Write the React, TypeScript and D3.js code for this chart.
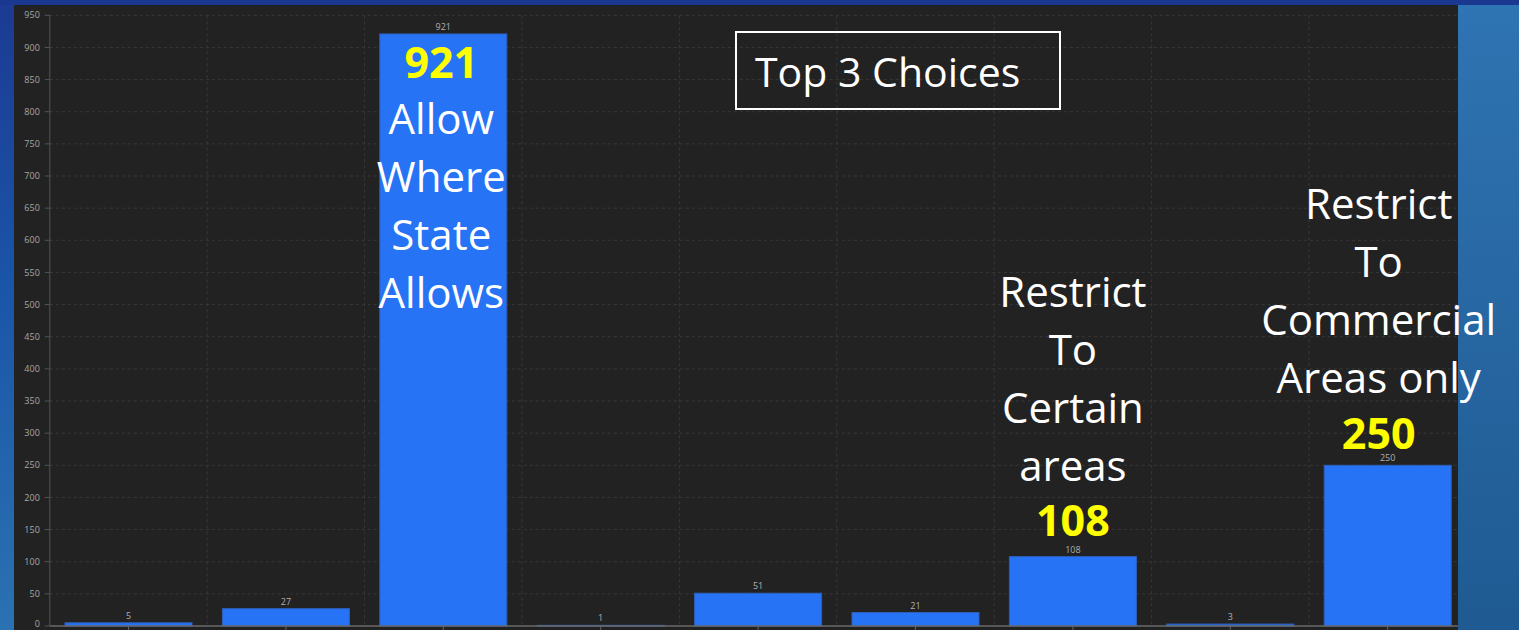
import React from "react";
import * as d3 from "d3";

const categories = ["C1", "C2", "C3", "C4", "C5", "C6", "C7", "C8", "C9"];
const values = [5, 27, 921, 1, 51, 21, 108, 3, 250];
const yTicks = d3.range(0, 951, 50);

const annotations = [
  { cat: "C3", lines: ["Allow", "Where", "State", "Allows"], firstY: 134, num: "921", numY: 78, dx: -2 },
  { cat: "C7", lines: ["Restrict", "To", "Certain", "areas"], firstY: 307, num: "108", numY: 536, dx: 0 },
  { cat: "C9", lines: ["Restrict", "To", "Commercial", "Areas only"], firstY: 219, num: "250", numY: 449, dx: -9 },
];

const W = 1519;
const H = 630;
const panel = { x: 14, y: 5, r: 1458 };
const plot = { left: 49.8, right: 1466.4, top: 15.3, bottom: 626 };

export default function App() {
  const x = d3.scaleBand<string>().domain(categories).range([plot.left, plot.right]).paddingInner(0.193).paddingOuter(0.0965);
  const y = d3.scaleLinear().domain([0, 950]).range([plot.bottom, plot.top]);
  const step = x.step();
  const font = "'Open Sans', 'Noto Sans', sans-serif";
  const boundaries = categories.map((c, i) => plot.left + i * step).slice(1);

  return (
    <svg width={W} height={H} style={{ position: "absolute", left: 0, top: 0, display: "block" }}>
      <defs>
        <linearGradient id="bgL" x1="0" y1="0" x2="0" y2="1">
          <stop offset="0" stopColor="#1c3a92" />
          <stop offset="0.45" stopColor="#1a55a8" />
          <stop offset="1" stopColor="#2a72b2" />
        </linearGradient>
        <linearGradient id="bgR" x1="0" y1="0" x2="0" y2="1">
          <stop offset="0" stopColor="#2f74b3" />
          <stop offset="1" stopColor="#1f5a92" />
        </linearGradient>
        <clipPath id="panelClip">
          <rect x={panel.x} y={panel.y} width={panel.r - panel.x} height={H - panel.y} />
        </clipPath>
      </defs>
      <rect x={0} y={0} width={W} height={H} fill="url(#bgL)" />
      <rect x={1440} y={0} width={W - 1440} height={H} fill="url(#bgR)" />
      <rect x={0} y={0} width={W} height={panel.y} fill="#1b3890" />
      <rect x={panel.x} y={panel.y} width={panel.r - panel.x} height={H - panel.y} fill="#222222" />

      <g clipPath="url(#panelClip)">
        {yTicks.filter((t) => t > 0).map((t) => (
          <line key={"h" + t} x1={plot.left} x2={plot.right} y1={y(t)} y2={y(t)} stroke="#383838" strokeDasharray="3,3" />
        ))}
        {boundaries.map((b, i) => (
          <line key={"v" + i} x1={b} x2={b} y1={plot.top} y2={plot.bottom} stroke="#383838" strokeDasharray="3,3" />
        ))}
        <line x1={plot.left} x2={plot.left} y1={plot.top} y2={plot.bottom} stroke="#555" />
        {yTicks.map((t) => (
          <g key={"t" + t}>
            <line x1={plot.left - 5} x2={plot.left} y1={y(t)} y2={y(t)} stroke="#555" />
            <text x={plot.left - 10} y={Math.min(y(t), 624)} dy="0.35em" textAnchor="end" fontSize={9} fill="#a8a8a8" fontFamily={font}>
              {t}
            </text>
          </g>
        ))}
        {categories.map((c, i) => {
          const v = values[i];
          const bx = x(c)!;
          return (
            <g key={c}>
              <rect x={bx} y={y(v)} width={x.bandwidth()} height={plot.bottom - y(v)} fill="#2673f6" stroke="#2e5fb8" strokeWidth={1} />
              <text x={bx + x.bandwidth() / 2} y={y(v) - 4} textAnchor="middle" fontSize={9} fill="#b0b0b0" fontFamily={font}>
                {v}
              </text>
              <line x1={bx + x.bandwidth() / 2} x2={bx + x.bandwidth() / 2} y1={plot.bottom} y2={plot.bottom + 5} stroke="#666" />
            </g>
          );
        })}
        <line x1={plot.left} x2={plot.right} y1={plot.bottom} y2={plot.bottom} stroke="#6a6a6a" strokeWidth={1.5} />
      </g>

      <rect x={736} y={32} width={324} height={77} fill="none" stroke="#ffffff" strokeWidth={2} />
      <text x={755} y={87} fontSize={41} fill="#ffffff" fontFamily={font}>Top 3 Choices</text>

      {annotations.map((a) => {
        const cx = x(a.cat)! + x.bandwidth() / 2 + a.dx;
        return (
          <g key={a.cat}>
            <text x={cx} y={a.numY} textAnchor="middle" fontSize={43} fontWeight={700} fill="#ffff00" fontFamily={font}>
              {a.num}
            </text>
            {a.lines.map((l, i) => (
              <text key={i} x={cx} y={a.firstY + i * 58} textAnchor="middle" fontSize={42} fill="#ffffff" fontFamily={font}>
                {l}
              </text>
            ))}
          </g>
        );
      })}
    </svg>
  );
}
